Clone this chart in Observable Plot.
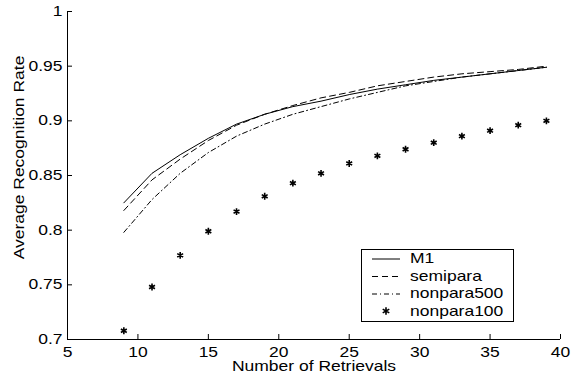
<!DOCTYPE html>
<html><head><meta charset="utf-8">
<script src="https://cdn.jsdelivr.net/npm/d3@7"></script>
<script src="https://cdn.jsdelivr.net/npm/@observablehq/plot@0.6"></script>
<style>
body{margin:0;background:#fff;}
#chart{position:relative;width:575px;height:377px;overflow:hidden;}
#chart svg{display:block;}
#legend{position:absolute;left:0;top:0;}
</style></head><body><div id="chart"></div>
<script>
const retrievals = [9, 11, 13, 15, 17, 19, 21, 23, 25, 27, 29, 31, 33, 35, 37, 39];
const m1         = [0.825, 0.852, 0.869, 0.884, 0.897, 0.906, 0.913, 0.918, 0.924, 0.929, 0.933, 0.937, 0.940, 0.943, 0.946, 0.949];
const semipara   = [0.818, 0.846, 0.865, 0.882, 0.896, 0.906, 0.914, 0.921, 0.926, 0.932, 0.936, 0.940, 0.943, 0.945, 0.947, 0.950];
const nonpara500 = [0.798, 0.828, 0.852, 0.871, 0.886, 0.897, 0.906, 0.913, 0.920, 0.926, 0.932, 0.936, 0.940, 0.943, 0.946, 0.949];
const nonpara100 = [0.708, 0.748, 0.777, 0.799, 0.817, 0.831, 0.843, 0.852, 0.861, 0.868, 0.874, 0.880, 0.886, 0.891, 0.896, 0.900];
const xTicks = [5, 10, 15, 20, 25, 30, 35, 40];
const yTicks = [0.7, 0.75, 0.8, 0.85, 0.9, 0.95, 1];
const yTickLabels = ["0.7", "0.75", "0.8", "0.85", "0.9", "0.95", "1"];
const xLabel = "Number of Retrievals";
const yLabel = "Average Recognition Rate";
const seriesNames = ["M1", "semipara", "nonpara500", "nonpara100"];
const seriesDash = [null, "6,4", "5,3,1,3", "star"];

const FONT = "'Liberation Sans', Arial, Helvetica, sans-serif";
const rows = (vals) => retrievals.map((x, i) => ({x, y: vals[i]}));

const chart = Plot.plot({
  width: 575, height: 377,
  marginLeft: 67, marginRight: 15, marginTop: 11, marginBottom: 38,
  style: {fontFamily: FONT, fontSize: "14px", background: "white", color: "black", overflow: "visible"},
  x: {domain: [5, 40]},
  y: {domain: [0.7, 1]},
  marks: [
    Plot.axisX({ticks: xTicks, tickSize: -5, tickPadding: 13, tickFormat: d => String(d), label: null, stroke: "black"}),
    Plot.axisY({ticks: yTicks, tickSize: -5, tickPadding: 10, tickFormat: d => yTickLabels[yTicks.indexOf(d)], label: null, stroke: "black"}),
    Plot.ruleX([5], {stroke: "black"}),
    Plot.ruleY([0.7], {stroke: "black"}),
    Plot.line(rows(m1), {x: "x", y: "y", stroke: "black", strokeWidth: 1}),
    Plot.line(rows(semipara), {x: "x", y: "y", stroke: "black", strokeWidth: 1, strokeDasharray: seriesDash[1]}),
    Plot.line(rows(nonpara500), {x: "x", y: "y", stroke: "black", strokeWidth: 1, strokeDasharray: seriesDash[2]}),
    Plot.dot(rows(nonpara100), {x: "x", y: "y", symbol: "asterisk", r: 3.2, stroke: "black", strokeWidth: 1.6}),
    Plot.text([xLabel], {frameAnchor: "bottom", dy: 27, textAnchor: "middle", lineAnchor: "middle", fill: "black"}),
    Plot.text([yLabel], {frameAnchor: "left", rotate: -90, dx: -48, dy: -18, textAnchor: "middle", lineAnchor: "middle", fill: "black"})
  ]
});

// horizontally stretched lettering as in the reference
d3.select(chart).selectAll("text").each(function() {
  const t = this.getAttribute("transform") || "";
  this.setAttribute("transform", t + " scale(1.25,1)");
});

const host = document.getElementById("chart");
host.appendChild(chart);

// legend box
const lg = d3.select(host).append("svg").attr("id", "legend")
  .attr("width", 575).attr("height", 377)
  .style("font-family", FONT).style("font-size", "14px");
const box = {x: 361, y: 249, w: 152, h: 72};
lg.append("rect").attr("x", box.x + 0.5).attr("y", box.y + 0.5).attr("width", box.w).attr("height", box.h)
  .attr("fill", "white").attr("stroke", "black").attr("stroke-width", 1);
const rowY = [258.5, 276, 293.5, 311];
seriesNames.forEach((name, i) => {
  const y = rowY[i];
  if (seriesDash[i] === "star") {
    lg.append("path").attr("transform", `translate(386,${y})`)
      .attr("d", d3.symbol(d3.symbolAsterisk, 40)())
      .attr("stroke", "black").attr("stroke-width", 1.6).attr("fill", "none");
  } else {
    const l = lg.append("line").attr("x1", 372).attr("x2", 400).attr("y1", y + 0.5).attr("y2", y + 0.5)
      .attr("stroke", "black").attr("stroke-width", 1);
    if (seriesDash[i]) l.attr("stroke-dasharray", seriesDash[i]);
  }
  lg.append("text").attr("transform", `translate(410,${y}) scale(1.25,1)`).attr("dy", "0.35em")
    .attr("fill", "black").text(name);
});
</script>
</body></html>
